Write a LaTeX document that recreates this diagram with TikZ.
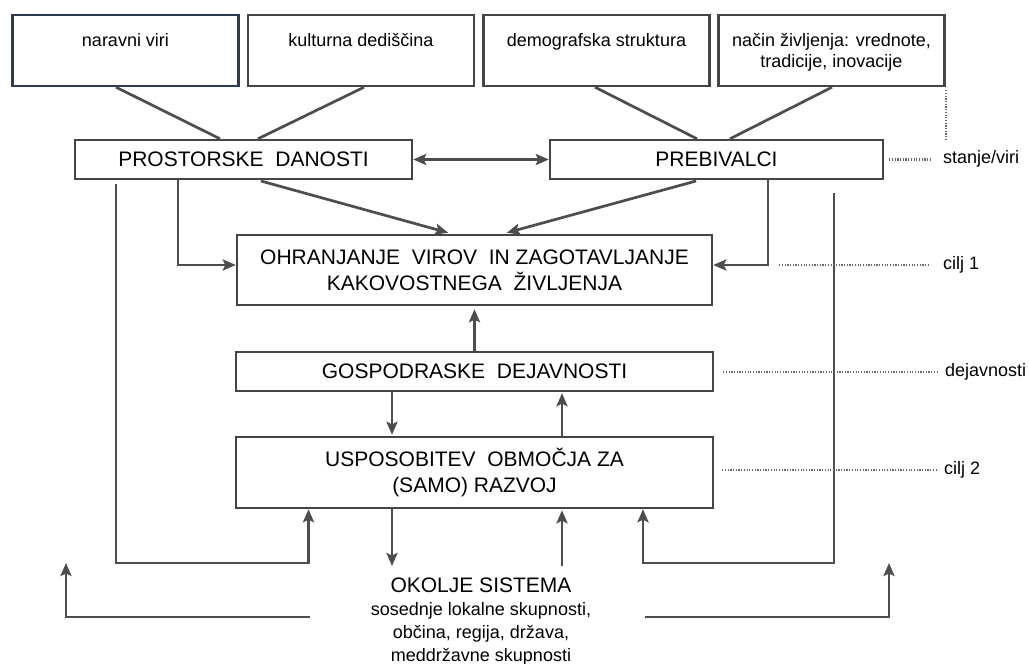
\documentclass[tikz,border=0pt]{standalone}
\usepackage{fontspec}
\setmainfont{Liberation Sans}
\usetikzlibrary{arrows.meta, positioning, calc}

\definecolor{linegray}{HTML}{4D4D4D}
\definecolor{boxgray}{HTML}{454545}
\definecolor{navyline}{HTML}{2E3B55}

\tikzset{
    box/.style={draw=boxgray, line width=2.4pt, fill=white, align=center, inner sep=0pt,
        font=\fontsize{21}{26}\selectfont},
    topbox/.style={box, minimum width=226pt, minimum height=71pt, text depth=0pt,
        font=\fontsize{18}{21}\selectfont},
    note/.style={anchor=west, inner sep=0pt, font=\fontsize{18}{21}\selectfont},
    link/.style={draw=linegray, line width=2.7pt},
    dots/.style={draw=linegray!85, line width=2.2pt, dash pattern=on 1.2pt off 1.5pt},
}

\begin{document}
\begin{tikzpicture}[x=1pt, y=-1pt, >={Stealth[length=13pt,width=11pt,inset=2.5pt]}]
    \useasboundingbox (0,0) rectangle (1029,664);

    \node[topbox, draw=navyline] (nv) at (125.5,50.5) {naravni viri\\\strut}; % naravni viri
    \node[topbox] (kd) at (361,50.5) {kulturna dediščina\\\strut}; % kulturna dediscina
    \node[topbox] (ds) at (596.5,50.5) {demografska struktura\\\strut}; % demografska
    \node[topbox] (nz) at (831.5,50.5) {način življenja: vrednote,\\tradicije, inovacije}; % nacin zivljenja

    \node[box, minimum width=337pt, minimum height=39pt] (pd) at (243.5,159.5) {PROSTORSKE\ \ DANOSTI};
    \node[box, minimum width=333pt, minimum height=39pt] (pb) at (716.5,159.5) {PREBIVALCI};
    \node[box, minimum width=475pt, minimum height=70pt] (ohr) at (474.5,270)
        {OHRANJANJE\ \ VIROV\ \ IN\ ZAGOTAVLJANJE\\KAKOVOSTNEGA\ \ ŽIVLJENJA};
    \node[box, minimum width=477pt, minimum height=39pt] (gosp) at (474.5,371.5) {GOSPODRASKE\ \ DEJAVNOSTI};
    \node[box, minimum width=477pt, minimum height=71pt] (usp) at (474.5,472.5)
        {USPOSOBITEV\ \ OBMOČJA ZA\\(SAMO) RAZVOJ};
    \node[align=center, anchor=north, inner sep=0pt, font=\fontsize{18}{23}\selectfont] (ok) at (481,578)
        {{\fontsize{21}{26}\selectfont OKOLJE SISTEMA}\\sosednje lokalne skupnosti,\\občina, regija, država,\\meddržavne skupnosti};

    % notes on the right
    \node[note] (sv) at (943,159) {stanje/viri};
    \node[note] (c1) at (943,265) {cilj 1};
    \node[note] (dj) at (945,372) {dejavnosti};
    \node[note] (c2) at (944,470) {cilj 2};

    \coordinate (lb) at (116,563);
    \coordinate (rb) at (834,563);
    \coordinate (lo) at (66,563);
    \coordinate (ro) at (889,563);
    \coordinate (d1) at (392,566);
    \coordinate (u1) at (562,566);

    \draw[link]
        ([xshift=-9.5pt]nv.south) edge ([xshift=-23.5pt]pd.north)
        ([xshift=3pt]kd.south) edge ([xshift=14.5pt]pd.north)
        ([xshift=-1.5pt]ds.south) edge ([xshift=-19.5pt]pb.north)
        ([xshift=0.5pt]nz.south) edge ([xshift=13.5pt]pb.north)
        (pd.east) edge[<->] (pb.west)
        ([xshift=14.5pt]pd.south) edge[->, shorten <=3pt, shorten >=4pt] ([xshift=-22.5pt]ohr.north)
        ([xshift=-17.5pt]pb.south) edge[->, shorten <=3pt, shorten >=4pt] ([xshift=28.5pt]ohr.north)
        (gosp.north) edge[->, shorten >=3pt] (ohr.south)
        ([xshift=-82.5pt]gosp.south) edge[->, shorten >=1pt] ([xshift=-82.5pt]usp.north)
        ([xshift=87.5pt]usp.north) edge[->, shorten >=1pt] ([xshift=87.5pt]gosp.south)
        ([xshift=-82.5pt]usp.south) edge[->] (d1)
        (u1) edge[->, shorten >=1pt] ([xshift=87.5pt]usp.south)
        ;

    \draw[link, ->] ([xshift=-65.5pt]pd.south) |- (c1.west -| ohr.west);
    \draw[link, ->] ([xshift=51.5pt]pb.south) |- (c1.west -| ohr.east);
    \draw[link, ->, shorten <=4pt] (lb |- pd.south) -- (lb) -| ([xshift=-166pt]usp.south);
    \draw[link, ->, shorten <=13pt] (rb |- pb.south) -- (rb) -| ([xshift=168.5pt]usp.south);
    \draw[link, ->, shorten <=61pt] ([yshift=5pt]ok.west) -| (lo);
    \draw[link, ->, shorten <=54pt] ([yshift=5pt]ok.east) -| (ro);

    \draw[dots, shorten <=3pt, shorten >=10pt] (nz.south east) -- (nz.south east |- sv.north);
    \draw[dots, shorten <=5pt, shorten >=11pt] (pb.east) -- (pb.east -| sv.west);
    \draw[dots, shorten <=66pt, shorten >=13pt] (c1.west -| ohr.east) -- (c1.west);
    \draw[dots, shorten <=9pt, shorten >=7pt] (dj.west -| gosp.east) -- (dj.west);
    \draw[dots, shorten <=8pt, shorten >=7pt] (c2.west -| usp.east) -- (c2.west);
\end{tikzpicture}
\end{document}
